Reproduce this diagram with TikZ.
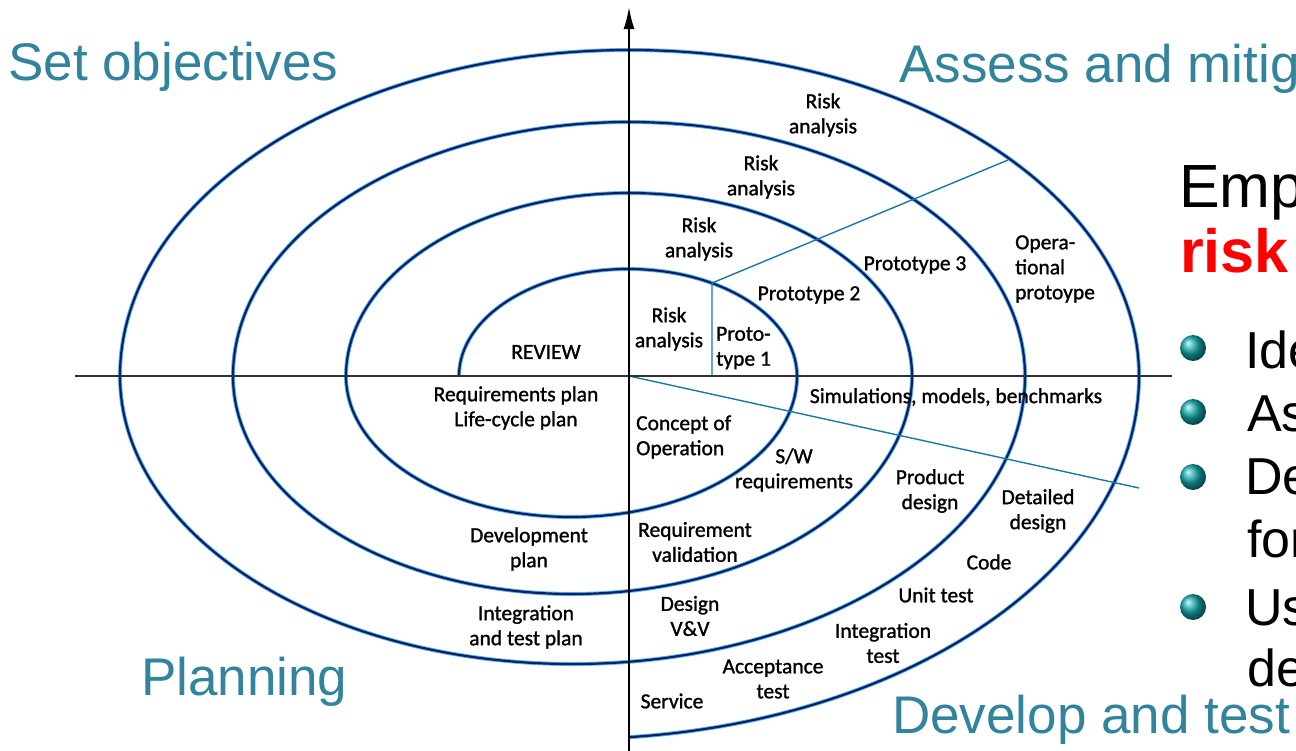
\documentclass[tikz,border=0pt]{standalone}
\usepackage{fontspec}
\setmainfont{Liberation Sans}
\newfontfamily\lblfont{Carlito}[FakeBold=1.2]
\usetikzlibrary{arrows.meta}
\definecolor{navy}{RGB}{12,32,105}
\definecolor{glow}{RGB}{90,185,230}
\definecolor{diag}{RGB}{25,120,170}
\definecolor{head}{RGB}{49,132,155}
\definecolor{ballc}{RGB}{20,170,170}
\definecolor{axisgray}{RGB}{50,50,50}
\begin{document}
\begin{tikzpicture}[x=1pt,y=-1pt,
  lbl/.style={font=\lblfont\fontsize{21.5}{25}\selectfont, align=center, inner sep=0pt},
  lbll/.style={lbl, align=left, anchor=west},
  heading/.style={font=\fontsize{53}{60}\selectfont, text=head, anchor=base west, inner sep=0pt},
  bigtxt/.style={font=\fontsize{52}{60}\selectfont, anchor=base west, inner sep=0pt},
  bul/.style={circle, minimum size=26pt, inner sep=0pt, shading=ball, ball color=ballc},
  spiralcore/.style={draw=navy, line width=2.2pt, preaction={draw=glow, line width=4pt}},
  divider/.style={draw=diag, line width=1.4pt},
  axisline/.style={line width=2pt}]

\useasboundingbox (0,0) rectangle (1296,750);
\fill[white] (0,0) rectangle (1296,750);
\clip (0,0) rectangle (1296,750);

% spiral
\draw[spiralcore] (459,376)
  arc[start angle=180, end angle=360, x radius=169, y radius=107]
  arc[start angle=0, end angle=180, x radius=225.5, y radius=141]
  arc[start angle=180, end angle=360, x radius=283, y radius=183]
  arc[start angle=0, end angle=180, x radius=339.5, y radius=218]
  arc[start angle=180, end angle=360, x radius=396, y radius=254]
  arc[start angle=0, end angle=180, x radius=452.5, y radius=288]
  arc[start angle=180, end angle=360, x radius=509.5, y radius=326]
  arc[start angle=0, end angle=84.28, x radius=566.5, y radius=363];

% dividers
\coordinate (O) at (629,376);
\coordinate (vs) at (712,376);
\coordinate (vt1) at (712,283);
\coordinate (d1) at (1008,160);
\coordinate (d2) at (1139,488);
\draw[divider] (vs) -- (vt1) -- (d1);
\draw[divider] (O) -- (d2);

% axes
\coordinate (hl) at (75,376);
\coordinate (hr) at (1172,376);
\coordinate (vb) at (629,752);
\coordinate (vt) at (629,7);
\draw[axisline, draw=axisgray] (hl) -- (hr);
\draw[axisline, -{Latex[length=22pt,width=11pt]}] (vb) -- (vt);

% labels
\node[lbl] (ra4) at (823,115) {Risk\\analysis};
\node[lbl] (ra3) at (761,177) {Risk\\analysis};
\node[lbl] (ra2) at (699,239) {Risk\\analysis};
\node[lbl] (ra1) at (669,329) {Risk\\analysis};
\node[lbll] (p1) at (716,348) {Proto-\\type 1};
\node[lbl] (p2) at (809,295) {Prototype 2};
\node[lbl] (p3) at (915,265) {Prototype 3};
\node[lbll] (op) at (1015,269) {Opera-\\tional\\protoype};
\node[lbl] (rev) at (546,352) {REVIEW};
\node[lbl] (rp) at (516,408) {Requirements plan\\Life-cycle plan};
\node[lbl] (dp) at (529,549) {Development\\plan};
\node[lbl] (itp) at (526,627) {Integration\\and test plan};
\node[lbl] (sim) at (956,397) {Simulations, models, benchmarks};
\node[lbll] (co) at (636,437) {Concept of\\Operation};
\node[lbl] (sw) at (794,470) {S/W\\requirements};
\node[lbl] (pd) at (930,491) {Product\\design};
\node[lbl] (dd) at (1038,511) {Detailed\\design};
\node[lbl] (rv) at (695,542) {Requirement\\validation};
\node[lbl] (code) at (989,562) {Code};
\node[lbl] (ut) at (936,595) {Unit test};
\node[lbl] (dvv) at (690,616) {Design\\V\&V};
\node[lbl] (it) at (883,643) {Integration\\test};
\node[lbl] (at) at (773,679) {Acceptance\\test};
\node[lbl] (svc) at (672,701) {Service};

% headings
\node[heading] (h1) at (8,80) {Set objectives};
\node[heading] (h2) at (899,82) {Assess and mitig};
\node[heading] (h3) at (141,695) {Planning};
\node[heading] (h4) at (892,733) {Develop and test};

% right column
\node[font=\fontsize{61}{70}\selectfont, anchor=base west, inner sep=0pt] (emp) at (1179,207) {Emp};
\node[font=\bfseries\fontsize{61}{70}\selectfont, text=red, anchor=base west, inner sep=0pt] (risk) at (1180,272) {risk};
\node[bul] (b1) at (1193,348) {};
\node[bul] (b2) at (1193,412) {};
\node[bul] (b3) at (1193,477) {};
\node[bul] (b4) at (1193,607) {};
\node[bigtxt] (t1) at (1245,368) {Ide};
\node[bigtxt] (t2) at (1247,431) {As};
\node[bigtxt] (t3) at (1245,494) {De};
\node[bigtxt] (t3b) at (1247,557) {for};
\node[bigtxt] (t4) at (1245,625) {Us};
\node[bigtxt] (t4b) at (1247,686) {de};
\end{tikzpicture}
\end{document}
